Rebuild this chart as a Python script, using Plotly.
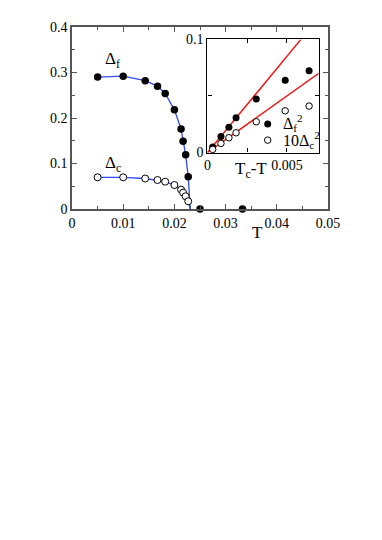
import plotly.graph_objects as go

# main panel: order parameters vs temperature
T = [0.005, 0.010, 0.0143, 0.0167, 0.0182, 0.0200, 0.0213, 0.0217, 0.0222, 0.0227]
delta_f = [0.290, 0.292, 0.282, 0.270, 0.254, 0.218, 0.176, 0.149, 0.119, 0.071]
delta_c = [0.0697, 0.0697, 0.0670, 0.0637, 0.0600, 0.0527, 0.0426, 0.0360, 0.0280, 0.0170]
Tc = 0.0231
T_zero = [0.025, 0.0333]
delta_zero = [0.0, 0.0]

# inset: squared order parameters vs Tc-T
dT = [0.00033, 0.00085, 0.00135, 0.0018, 0.00307, 0.00489, 0.00639]
df2 = [0.0049, 0.0143, 0.0223, 0.0307, 0.0473, 0.0638, 0.0723]
dc2 = [0.0028, 0.0081, 0.0131, 0.0175, 0.0272, 0.0369, 0.0411]
fit_f_x = [0, 0.00588]
fit_f_y = [0, 0.1]
fit_c_x = [0, 0.007]
fit_c_y = [0, 0.070]

SERIF = "Times New Roman, Liberation Serif, serif"
BLUE = "#2f4cf0"
RED = "#f01818"

fig = go.Figure()

fig.add_trace(go.Scatter(x=T + [Tc], y=delta_f + [0], mode="lines",
                         line=dict(color=BLUE, width=1.3), showlegend=False))
fig.add_trace(go.Scatter(x=T + [Tc], y=delta_c + [0], mode="lines",
                         line=dict(color=BLUE, width=1.3), showlegend=False))
fig.add_trace(go.Scatter(x=T + T_zero, y=delta_f + delta_zero, mode="markers",
                         marker=dict(color="black", size=7.5), cliponaxis=False,
                         showlegend=False))
fig.add_trace(go.Scatter(x=T, y=delta_c, mode="markers",
                         marker=dict(color="white", size=7, line=dict(color="black", width=1)),
                         cliponaxis=False, showlegend=False))

# inset
fig.add_trace(go.Scatter(x=fit_f_x, y=fit_f_y, mode="lines", xaxis="x2", yaxis="y2",
                         line=dict(color=RED, width=1.5), showlegend=False))
fig.add_trace(go.Scatter(x=fit_c_x, y=fit_c_y, mode="lines", xaxis="x2", yaxis="y2",
                         line=dict(color=RED, width=1.5), showlegend=False))
fig.add_trace(go.Scatter(x=dT, y=df2, mode="markers", xaxis="x2", yaxis="y2",
                         marker=dict(color="black", size=7), cliponaxis=False,
                         showlegend=False))
fig.add_trace(go.Scatter(x=dT, y=dc2, mode="markers", xaxis="x2", yaxis="y2",
                         marker=dict(color="white", size=6.5, line=dict(color="black", width=1)),
                         cliponaxis=False, showlegend=False))
# inset legend symbols
fig.add_trace(go.Scatter(x=[0.00379], y=[0.0252], mode="markers", xaxis="x2", yaxis="y2",
                         marker=dict(color="black", size=7), showlegend=False))
fig.add_trace(go.Scatter(x=[0.00379], y=[0.011], mode="markers", xaxis="x2", yaxis="y2",
                         marker=dict(color="white", size=6.5, line=dict(color="black", width=1)),
                         showlegend=False))

axis_main = dict(showline=True, linecolor="#555", linewidth=1.5, mirror="ticks",
                 ticks="inside", ticklen=5, tickcolor="#555", tickwidth=1,
                 showgrid=False, zeroline=False,
                 tickfont=dict(family=SERIF, size=14, color="black"))

# page body has an 8px margin, so the figure is drawn 8px in from the corner
fig.update_layout(
    width=374, height=532,
    margin=dict(l=64, r=54, t=19, b=331),
    plot_bgcolor="white", paper_bgcolor="white",
    font=dict(family=SERIF, color="black"),
    xaxis=dict(axis_main, range=[0, 0.05], tickvals=[0, 0.01, 0.02, 0.03, 0.04, 0.05],
               minor=dict(dtick=0.005, ticks="inside", ticklen=3, tickcolor="#555")),
    yaxis=dict(axis_main, range=[0, 0.4], tickvals=[0, 0.1, 0.2, 0.3, 0.4],
               minor=dict(dtick=0.05, ticks="inside", ticklen=3, tickcolor="#555")),
    xaxis2=dict(domain=[0.529, 0.964], anchor="y2", range=[0, 0.007],
                tickvals=[0, 0.005], ticktext=["0", "0.005"],
                showline=True, linecolor="black", linewidth=1.2, mirror="ticks",
                ticks="inside", ticklen=4, tickcolor="black",
                minor=dict(dtick=0.0025, ticks="inside", ticklen=4, tickcolor="black"),
                showgrid=False, zeroline=False,
                tickfont=dict(family=SERIF, size=14, color="black")),
    yaxis2=dict(domain=[0.310, 0.932], anchor="x2", range=[0, 0.1],
                tickvals=[0, 0.1], ticktext=["0", "0.1"],
                showline=True, linecolor="black", linewidth=1.2, mirror="ticks",
                ticks="inside", ticklen=4, tickcolor="black",
                minor=dict(dtick=0.05, ticks="inside", ticklen=4, tickcolor="black"),
                showgrid=False, zeroline=False,
                tickfont=dict(family=SERIF, size=14, color="black")),
    annotations=[
        dict(x=0.006, y=0.327, xref="x", yref="y", text="Δ<sub>f</sub>", showarrow=False,
             xanchor="left", yanchor="middle", font=dict(size=17)),
        dict(x=0.006, y=0.100, xref="x", yref="y", text="Δ<sub>c</sub>", showarrow=False,
             xanchor="left", yanchor="middle", font=dict(size=17)),
        dict(x=0.0363, y=-0.128, xref="x", yref="paper", text="T", showarrow=False,
             xanchor="center", yanchor="middle", font=dict(size=17)),
        dict(x=0.00275, y=0.215, xref="x2", yref="paper", text="T<sub>c</sub>-T",
             showarrow=False, xanchor="center", yanchor="middle", font=dict(size=17)),
        dict(x=0.00465, y=0.0262, xref="x2", yref="y2", text="Δ<sub>f</sub><sup>2</sup>",
             showarrow=False, xanchor="left", yanchor="middle", font=dict(size=16)),
        dict(x=0.00465, y=0.011, xref="x2", yref="y2", text="10Δ<sub>c</sub><sup>2</sup>",
             showarrow=False, xanchor="left", yanchor="middle", font=dict(size=16)),
    ],
)

fig.write_html("out.html")
